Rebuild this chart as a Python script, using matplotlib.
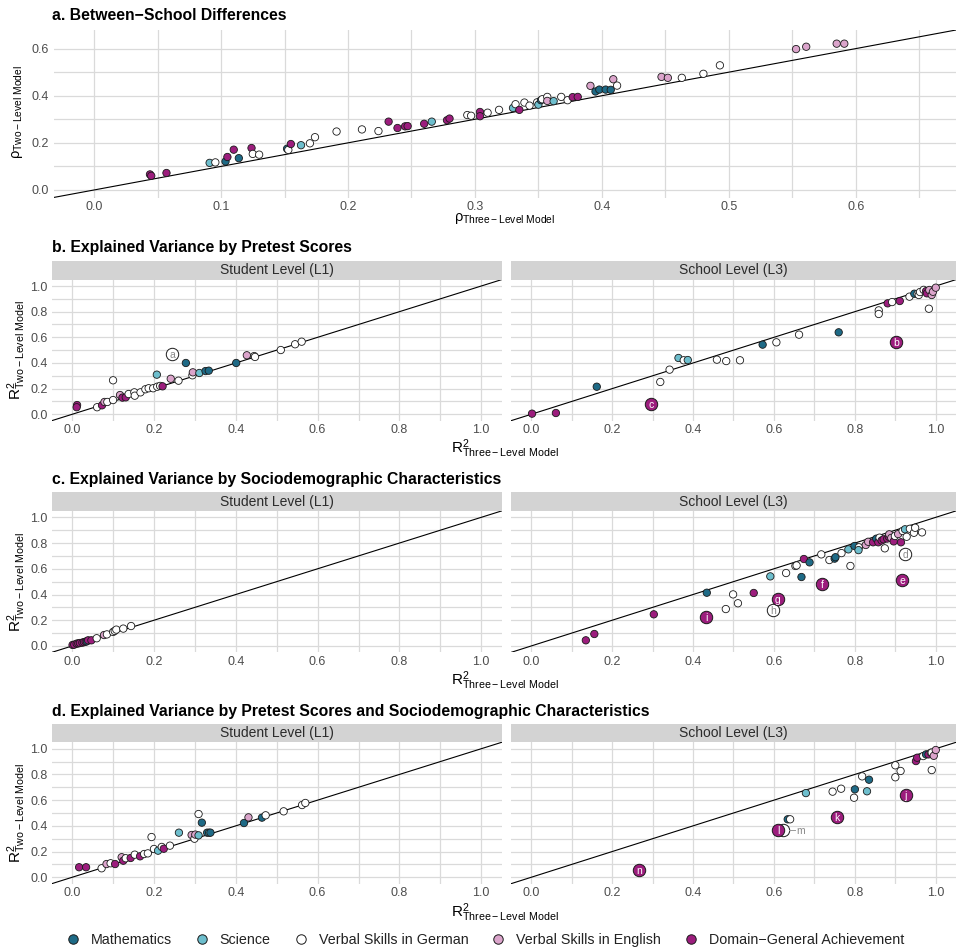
import matplotlib
matplotlib.use("Agg")
import matplotlib.pyplot as plt
from matplotlib.lines import Line2D
from matplotlib.ticker import FormatStrFormatter

plt.rcParams["font.family"] = ["Liberation Sans", "DejaVu Sans"]
plt.rcParams["mathtext.fontset"] = "custom"
plt.rcParams["mathtext.rm"] = "Liberation Sans"
plt.rcParams["mathtext.it"] = "Liberation Sans:italic"
plt.rcParams["mathtext.bf"] = "Liberation Sans:bold"

# ---- domains -------------------------------------------------------------
domain_codes = ["M", "S", "G", "E", "D"]
domain_names = ["Mathematics", "Science", "Verbal Skills in German",
                "Verbal Skills in English", "Domain\u2212General Achievement"]
domain_colors = ["#1E6A86", "#6DBECD", "#FFFFFF", "#DBA4CB", "#9C1D7D"]

# ---- a. Between-school differences (rho) ---------------------------------
a_x = [0.044, 0.045, 0.057, 0.091, 0.0955, 0.1035, 0.105, 0.110, 0.114, 0.124,
       0.125, 0.130, 0.152, 0.153, 0.155, 0.163, 0.170, 0.174, 0.191, 0.211,
       0.224, 0.232, 0.239, 0.245, 0.247, 0.260, 0.266, 0.278, 0.280, 0.294,
       0.297, 0.304, 0.304, 0.310, 0.319, 0.330, 0.332, 0.335, 0.339, 0.343,
       0.349, 0.350, 0.352, 0.353, 0.357, 0.357, 0.362, 0.368, 0.373, 0.377,
       0.381, 0.391, 0.395, 0.398, 0.403, 0.407, 0.409, 0.412, 0.447, 0.452,
       0.463, 0.480, 0.493, 0.553, 0.561, 0.585, 0.591]
a_y = [0.066, 0.060, 0.072, 0.115, 0.117, 0.121, 0.140, 0.171, 0.135, 0.178,
       0.153, 0.150, 0.175, 0.170, 0.195, 0.190, 0.198, 0.224, 0.248, 0.257,
       0.250, 0.290, 0.263, 0.270, 0.271, 0.281, 0.290, 0.296, 0.303, 0.318,
       0.315, 0.331, 0.313, 0.328, 0.340, 0.348, 0.364, 0.340, 0.371, 0.358,
       0.372, 0.362, 0.381, 0.385, 0.395, 0.378, 0.377, 0.395, 0.381, 0.394,
       0.395, 0.442, 0.418, 0.426, 0.426, 0.425, 0.470, 0.443, 0.480, 0.476,
       0.476, 0.493, 0.529, 0.598, 0.608, 0.621, 0.621]
a_dom = list("DDDSGMDDMDGGMGDSGGGGGDDDDDSDDGGDDGGSGDGGGSMGGESGGDDEMMMMEGEEGGGEEEE")

# ---- b. Pretest scores ----------------------------------------------------
b1_x = [0.012, 0.011, 0.061, 0.073, 0.079, 0.086, 0.100, 0.100, 0.117, 0.123,
        0.131, 0.138, 0.152, 0.153, 0.167, 0.179, 0.187, 0.198, 0.207, 0.208,
        0.215, 0.221, 0.241, 0.260, 0.278, 0.294, 0.295, 0.311, 0.326, 0.334,
        0.401, 0.427, 0.445, 0.447, 0.510, 0.545, 0.561]
b1_y = [0.072, 0.055, 0.055, 0.070, 0.096, 0.096, 0.265, 0.111, 0.150, 0.130,
        0.132, 0.158, 0.171, 0.145, 0.171, 0.195, 0.203, 0.203, 0.309, 0.215,
        0.221, 0.218, 0.277, 0.262, 0.400, 0.304, 0.327, 0.322, 0.337, 0.340,
        0.400, 0.460, 0.454, 0.447, 0.501, 0.546, 0.566]
b1_dom = list("DDGDEGGGEDDGGGGGGGSGGDEGMGESMMMEGGGGG")

b3_x = [0.002, 0.061, 0.162, 0.319, 0.342, 0.364, 0.377, 0.387, 0.459, 0.482,
        0.516, 0.572, 0.606, 0.662, 0.760, 0.859, 0.859, 0.881, 0.892, 0.911,
        0.935, 0.947, 0.955, 0.958, 0.961, 0.970, 0.976, 0.978, 0.983, 0.984,
        0.990, 0.993, 1.000]
b3_y = [0.005, 0.010, 0.215, 0.252, 0.348, 0.439, 0.421, 0.423, 0.426, 0.415,
        0.421, 0.543, 0.561, 0.621, 0.639, 0.810, 0.782, 0.865, 0.875, 0.883,
        0.917, 0.940, 0.938, 0.930, 0.953, 0.970, 0.960, 0.943, 0.823, 0.969,
        0.930, 0.955, 0.987]
b3_dom = list("DDMGGSGSGGGMGGMGGDGDGMGGGGDDGEEEE")

# ---- c. Sociodemographic characteristics ----------------------------------
c1_x = [0.001, 0.005, 0.011, 0.015, 0.019, 0.025, 0.029, 0.033, 0.036, 0.039,
        0.047, 0.060, 0.078, 0.085, 0.100, 0.104, 0.108, 0.125, 0.144]
c1_y = [0.008, 0.010, 0.018, 0.020, 0.023, 0.026, 0.030, 0.034, 0.036, 0.044,
        0.044, 0.060, 0.085, 0.090, 0.109, 0.117, 0.127, 0.135, 0.155]
c1_dom = list("DDDDDDDDMDDGEGGGGGG")

c3_x = [0.135, 0.156, 0.303, 0.434, 0.481, 0.499, 0.511, 0.550, 0.591, 0.630,
        0.653, 0.656, 0.668, 0.674, 0.688, 0.717, 0.737, 0.750, 0.752, 0.767,
        0.784, 0.789, 0.799, 0.810, 0.809, 0.827, 0.833, 0.845, 0.853, 0.858,
        0.861, 0.866, 0.871, 0.874, 0.880, 0.884, 0.885, 0.890, 0.896, 0.899,
        0.907, 0.914, 0.918, 0.924, 0.928, 0.936, 0.946, 0.949, 0.966]
c3_y = [0.044, 0.093, 0.246, 0.414, 0.287, 0.401, 0.332, 0.412, 0.541, 0.567,
        0.622, 0.626, 0.536, 0.676, 0.650, 0.712, 0.668, 0.679, 0.690, 0.722,
        0.751, 0.622, 0.777, 0.767, 0.745, 0.785, 0.810, 0.806, 0.834, 0.806,
        0.842, 0.820, 0.829, 0.759, 0.835, 0.849, 0.868, 0.840, 0.813, 0.855,
        0.870, 0.806, 0.894, 0.907, 0.849, 0.911, 0.880, 0.919, 0.883]
c3_dom = list("DDDMGGGDSGGGMDMGGMMGSGMGSEEDMDGDDGDDEEDGEDGSGGGGG")

# ---- d. Pretest scores and sociodemographic characteristics ---------------
d1_x = [0.017, 0.034, 0.072, 0.084, 0.094, 0.105, 0.121, 0.125, 0.131, 0.143,
        0.153, 0.166, 0.176, 0.185, 0.194, 0.200, 0.210, 0.219, 0.224, 0.239,
        0.261, 0.292, 0.299, 0.301, 0.309, 0.309, 0.317, 0.330, 0.335, 0.338,
        0.420, 0.431, 0.464, 0.473, 0.517, 0.562, 0.570]
d1_y = [0.078, 0.078, 0.070, 0.103, 0.109, 0.103, 0.156, 0.129, 0.148, 0.150,
        0.176, 0.163, 0.181, 0.186, 0.313, 0.220, 0.207, 0.236, 0.222, 0.246,
        0.347, 0.329, 0.300, 0.332, 0.326, 0.492, 0.425, 0.347, 0.347, 0.347,
        0.422, 0.466, 0.464, 0.482, 0.513, 0.562, 0.578]
d1_dom = list("DDGEGDEDGDGDGGGGSGDGSEGESGMMSMMEMGGGG")

d3_x = [0.634, 0.640, 0.679, 0.745, 0.766, 0.798, 0.800, 0.818, 0.830, 0.835,
        0.900, 0.900, 0.913, 0.951, 0.954, 0.969, 0.976, 0.982, 0.988, 0.990,
        0.990, 0.995, 1.000]
d3_y = [0.451, 0.451, 0.655, 0.666, 0.689, 0.619, 0.684, 0.785, 0.669, 0.759,
        0.871, 0.778, 0.827, 0.904, 0.930, 0.943, 0.956, 0.956, 0.969, 0.834,
        0.970, 0.945, 0.990]
d3_dom = list("MGSGGGMGSMGGGDDGMDGGGEE")

# ---- labelled estimates ----------------------------------------------------
lab_facet = ["b1", "b3", "b3", "c3", "c3", "c3", "c3", "c3", "c3",
             "d3", "d3", "d3", "d3", "d3"]
lab_text = ["a", "c", "b", "i", "h", "g", "f", "e", "d", "n", "m", "l", "k", "j"]
lab_x = [0.245, 0.296, 0.902, 0.432, 0.598, 0.609, 0.720, 0.917, 0.924,
         0.267, 0.622, 0.610, 0.755, 0.926]
lab_y = [0.472, 0.078, 0.564, 0.225, 0.280, 0.363, 0.482, 0.511, 0.717,
         0.057, 0.368, 0.368, 0.467, 0.640]
lab_dom = list("GDDDGDDDGDGDDD")

# ---- layout helpers ---------------------------------------------------------
W, H = 956, 951
fig = plt.figure(figsize=(W / 100, H / 100), dpi=100)
COL = dict(zip(domain_codes, domain_colors))
GRID = "#DADADA"
TICKCOL = "#4D4D4D"


def px_axes(l, t, r, b):
    return fig.add_axes([l / W, 1 - b / H, (r - l) / W, (b - t) / H])


def style_axes(ax, lims, xmaj, xmin, ymaj, ymin, show_y=True):
    ax.set_xlim(lims)
    ax.set_ylim(lims)
    ax.set_xticks(xmaj)
    ax.set_xticks(xmin, minor=True)
    ax.set_yticks(ymaj)
    ax.set_yticks(ymin, minor=True)
    ax.grid(which="both", color=GRID, lw=0.9)
    ax.set_axisbelow(True)
    for s in ax.spines.values():
        s.set_visible(False)
    ax.tick_params(which="both", length=0, labelsize=9, labelcolor=TICKCOL)
    ax.tick_params(axis="x", pad=2.5)
    ax.tick_params(axis="y", pad=3)
    ax.xaxis.set_major_formatter(FormatStrFormatter("%.1f"))
    ax.yaxis.set_major_formatter(FormatStrFormatter("%.1f"))
    if not show_y:
        ax.tick_params(axis="y", labelleft=False)
    ax.axline((0, 0), (1, 1), color="black", lw=0.8, zorder=2)


def draw_points(ax, xs, ys, doms):
    ax.scatter(xs, ys, c=[COL[d] for d in doms], s=28, edgecolors="#1A1A1A",
               linewidths=0.6, zorder=3, clip_on=False)


def draw_labels(ax, facet):
    for f, t, x, y, d in zip(lab_facet, lab_text, lab_x, lab_y, lab_dom):
        if f != facet:
            continue
        ax.scatter([x], [y], c=[COL[d]], s=80, edgecolors="#1A1A1A",
                   linewidths=0.7, zorder=4)
        if t == "m":
            ax.plot([x + 0.014, x + 0.030], [y, y], color="#9A9A9A", lw=0.7,
                    zorder=4)
            ax.text(x + 0.032, y, t, ha="left", va="center_baseline",
                    fontsize=7.5, color="#8A8A8A", zorder=5)
        else:
            ax.text(x, y, t, ha="center", va="center_baseline", fontsize=7.5,
                    color="white" if d != "G" else "#8A8A8A", zorder=5)


def strip(l, t, r, b, label):
    sax = px_axes(l, t, r, b)
    sax.set_facecolor("#D3D3D3")
    sax.set_xticks([])
    sax.set_yticks([])
    for s in sax.spines.values():
        s.set_visible(False)
    sax.text(0.5, 0.5, label, ha="center", va="center", fontsize=10,
             color="#2B2B2B", transform=sax.transAxes)


def title(y, text):
    fig.text(52.5 / W, 1 - y / H, text, fontsize=11.3, fontweight="bold",
             ha="left", va="baseline", color="black")


YLAB = r"$\mathregular{R^2_{Two-Level\ Model}}$"
XLAB = r"$\mathregular{R^2_{Three-Level\ Model}}$"

# ---- panel a ----------------------------------------------------------------
title(20.5, "a. Between\u2212School Differences")
ax_a = px_axes(53.5, 30, 956, 197.5)
style_axes(ax_a, (-0.032, 0.679),
           [0, 0.1, 0.2, 0.3, 0.4, 0.5, 0.6],
           [0.05, 0.15, 0.25, 0.35, 0.45, 0.55, 0.65],
           [0, 0.2, 0.4, 0.6], [0.1, 0.3, 0.5])
draw_points(ax_a, a_x, a_y, a_dom)
fig.text(18 / W, 1 - 112 / H, r"$\mathregular{\rho_{Two-Level\ Model}}$",
         rotation=90, ha="center", va="center", fontsize=10.5)
fig.text(505 / W, 1 - 219 / H, r"$\mathregular{\rho_{Three-Level\ Model}}$",
         ha="center", va="center", fontsize=10.5)

# ---- faceted panels b-d -------------------------------------------------------
rows = [
    ("b. Explained Variance by Pretest Scores", 251.7, 260.7, 279.6, 420.7,
     449, (b1_x, b1_y, b1_dom, "b1"), (b3_x, b3_y, b3_dom, "b3")),
    ("c. Explained Variance by Sociodemographic Characteristics", 484, 492.3,
     510.9, 652.4, 681, (c1_x, c1_y, c1_dom, "c1"), (c3_x, c3_y, c3_dom, "c3")),
    ("d. Explained Variance by Pretest Scores and Sociodemographic Characteristics",
     716, 724, 742.3, 883.7, 913, (d1_x, d1_y, d1_dom, "d1"),
     (d3_x, d3_y, d3_dom, "d3")),
]
maj = [0, 0.2, 0.4, 0.6, 0.8, 1.0]
mnr = [0.1, 0.3, 0.5, 0.7, 0.9]
for ttl, tb, st, top, bot, xl_y, left, right in rows:
    title(tb, ttl)
    strip(51.7, st, 501.7, top, "Student Level (L1)")
    strip(511, st, 956, top, "School Level (L3)")
    for (xs, ys, ds, key), (l, r), show in ((left, (51.7, 501.7), True),
                                            (right, (511, 956), False)):
        ax = px_axes(l, top, r, bot)
        style_axes(ax, (-0.05, 1.05), maj, mnr, maj, mnr, show_y=show)
        draw_points(ax, xs, ys, ds)
        draw_labels(ax, key)
    fig.text(17 / W, 1 - (top + bot) / 2 / H, YLAB, rotation=90, ha="center",
             va="center", fontsize=11)
    fig.text(505 / W, 1 - xl_y / H, XLAB, ha="center", va="center",
             fontsize=11)

# ---- legend -------------------------------------------------------------------
handles = [Line2D([], [], marker="o", ls="", markersize=6.8,
                  markerfacecolor=c, markeredgecolor="#1A1A1A",
                  markeredgewidth=0.7) for c in domain_colors]
fig.legend(handles, domain_names, loc="center", ncol=5, frameon=False,
           bbox_to_anchor=(485 / W, 1 - 940 / H), fontsize=10.3,
           handletextpad=0.74, columnspacing=1.6, handlelength=1.0,
           labelcolor="#222222")

fig.savefig("out.png", dpi=100)
